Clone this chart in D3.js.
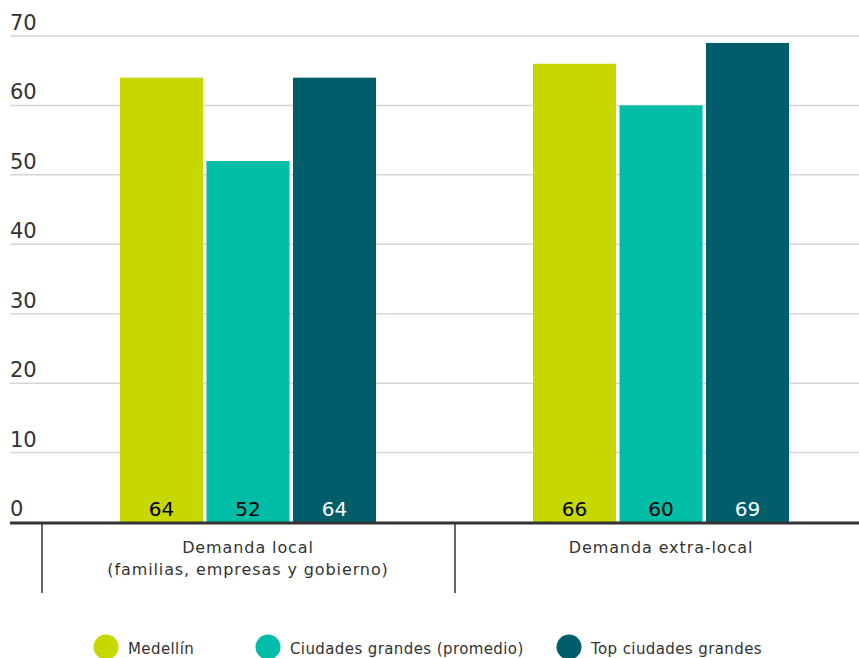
<!DOCTYPE html>
<html><head><meta charset="utf-8">
<script src="https://cdn.jsdelivr.net/npm/d3@7"></script>
<style>body{margin:0;background:#fff}svg{display:block}text{font-family:"DejaVu Sans",sans-serif}</style>
</head><body><svg id="c" width="859" height="658"></svg>
<script>
const categories = [["Demanda local","(familias, empresas y gobierno)"],["Demanda extra-local"]];
const series = ["Medellín","Ciudades grandes (promedio)","Top ciudades grandes"];
const values = [[64,52,64],[66,60,69]];
const colors = ["#c6d800","#00bda8","#005e6b"];
const labelColors = ["#000","#000","#fff"];
const ticks = [0,10,20,30,40,50,60,70];

const svg = d3.select("#c");
const y = d3.scaleLinear().domain([0,70]).range([522,36]);
const x0 = d3.scaleBand().domain([0,1]).range([42,868]).paddingInner(0).paddingOuter(0);
const x1 = d3.scaleBand().domain([0,1,2]).range([78,334]).paddingInner(0.04);

// gridlines
svg.append("g").selectAll("line").data(ticks.filter(t=>t>0)).join("line")
  .attr("x1",10).attr("x2",859).attr("y1",d=>y(d)).attr("y2",d=>y(d))
  .attr("stroke","#d6d6d6").attr("stroke-width",1.5);
svg.append("g").selectAll("text").data(ticks).join("text")
  .attr("x",10).attr("y",d=>y(d)-6).attr("font-size",21).attr("fill","#333").text(d=>d);

// bars
const g = svg.append("g").selectAll("g").data(values).join("g")
  .attr("transform",(d,i)=>`translate(${x0(i)},0)`);
g.selectAll("rect").data(d=>d).join("rect")
  .attr("x",(d,i)=>x1(i)).attr("width",x1.bandwidth())
  .attr("y",d=>y(d)).attr("height",d=>y(0)-y(d)).attr("fill",(d,i)=>colors[i]);
g.selectAll("text").data(d=>d).join("text")
  .attr("x",(d,i)=>x1(i)+x1.bandwidth()/2).attr("y",516).attr("text-anchor","middle")
  .attr("font-size",20).attr("fill",(d,i)=>labelColors[i]).text(d=>d);

// baseline
svg.append("line").attr("x1",10).attr("x2",859).attr("y1",y(0)+1).attr("y2",y(0)+1)
  .attr("stroke","#333").attr("stroke-width",3);
// dividers
svg.append("g").selectAll("line").data([0,1]).join("line")
  .attr("x1",d=>x0(d)).attr("x2",d=>x0(d)).attr("y1",y(0)).attr("y2",593)
  .attr("stroke","#333").attr("stroke-width",1.5);
// category labels
svg.append("g").selectAll("text").data(categories).join("text")
  .attr("x",(d,i)=>x0(i)+x1(1)+x1.bandwidth()/2).attr("y",553).attr("text-anchor","middle")
  .attr("font-size",16).attr("letter-spacing",0.9).attr("fill","#333")
  .each(function(d){d3.select(this).selectAll("tspan").data(d).join("tspan")
    .attr("x",d3.select(this).attr("x")).attr("dy",(t,j)=>j?22:0).text(t=>t);});

// legend
const lx = [106,268,569];
const lg = svg.append("g").selectAll("g").data(series).join("g")
  .attr("transform",(d,i)=>`translate(${lx[i]},647)`);
lg.append("circle").attr("r",12.5).attr("fill",(d,i)=>colors[i]);
lg.append("text").attr("x",22).attr("y",7).attr("font-size",15).attr("letter-spacing",0.4)
  .attr("fill","#333").text(d=>d);
</script></body></html>
